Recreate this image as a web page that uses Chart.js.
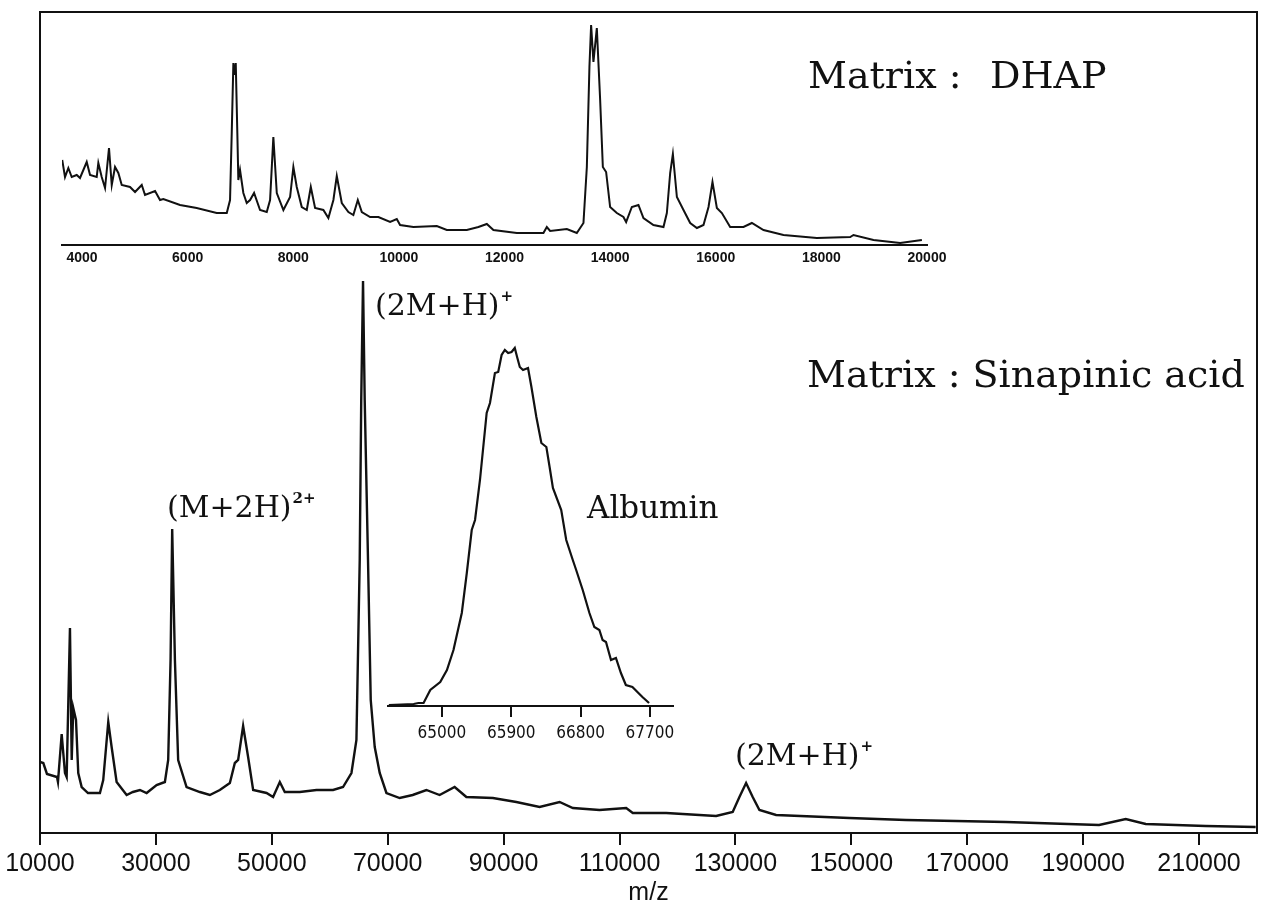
<!DOCTYPE html>
<html>
<head>
<meta charset="utf-8">
<script src="https://cdn.jsdelivr.net/npm/chart.js@4/dist/chart.umd.min.js"></script>
<style>
  body { margin: 0; background: #fff; }
  #wrap { position: relative; width: 1261px; height: 911px; }
  #wrap canvas { position: absolute; }
</style>
</head>
<body>
<div id="wrap">
  <canvas id="mainChart" width="1261" height="911" style="left:0;top:0"></canvas>
  <canvas id="dhapChart" width="1000" height="280" style="left:0;top:0"></canvas>
  <canvas id="albuminChart" width="320" height="430" style="left:370px;top:330px"></canvas>
</div>
<script>
// Main spectrum, matrix: sinapinic acid (m/z, relative intensity)
const mainMz = [10000, 10570, 11200, 12930, 13100, 13740, 14310, 14600, 15170, 15470, 15740, 16210, 16600, 17190, 18280,
  20340, 20910, 21780, 22360, 23220, 24950, 26030, 27240, 28400, 30120, 31550, 32120, 32530, 32810, 33280, 33840, 35290,
  37590, 39310, 41030, 42760, 43620, 44190, 45050, 45910, 46780, 49090, 50220, 51380, 52240, 54830, 57710, 60570, 62290,
  63740, 64600, 65170, 65430, 65740, 66030, 66600, 67070, 67760, 68620, 69780, 72070, 74310, 76670, 78960, 81550, 83570,
  88150, 92190, 96210, 99660, 101950, 106550, 111150, 112290, 118050, 126670, 129530, 130690, 131840, 132980, 134140,
  137010, 149660, 159430, 176670, 192750, 197350, 200800, 211150, 219770]
const mainIntensity = [71, 70, 59, 56, 51, 99, 60, 56, 205, 73, 125, 113, 60, 46, 40,
  40, 53, 111, 86, 51, 38, 41, 43, 40, 48, 51, 73, 173, 304, 173, 73, 46,
  41, 38, 43, 50, 70, 73, 107, 76, 43, 40, 36, 51, 41, 41, 43, 43, 46,
  60, 93, 273, 433, 552, 433, 273, 133, 86, 60, 40, 35, 38, 43, 38, 46, 36,
  35, 31, 26, 31, 25, 23, 25, 20, 20, 17, 21, 36, 50, 36, 23,
  18, 15, 13, 11, 8, 14, 9, 7, 6]
const mainTicks = [10000, 30000, 50000, 70000, 90000, 110000, 130000, 150000, 170000, 190000, 210000]

// Inset: matrix DHAP
const dhapMz = [3625, 3678, 3741, 3805, 3900, 3962, 4089, 4152, 4278, 4309, 4373, 4436, 4511, 4563, 4625, 4688, 4752,
  4909, 5004, 5131, 5193, 5383, 5477, 5540, 5856, 6172, 6551, 6741, 6803, 6835, 6866, 6888, 6911, 6941, 6960, 6992,
  7055, 7119, 7182, 7258, 7371, 7498, 7561, 7623, 7688, 7813, 7940, 8002, 8066, 8161, 8256, 8332, 8413, 8570, 8665,
  8760, 8824, 8919, 9044, 9138, 9222, 9298, 9455, 9612, 9834, 9960, 10023, 10275, 10718, 10907, 11286, 11506, 11665,
  11790, 12233, 12737, 12801, 12864, 13180, 13369, 13495, 13559, 13608, 13640, 13684, 13748, 13811, 13862, 13924,
  14000, 14127, 14252, 14303, 14411, 14536, 14631, 14820, 15010, 15074, 15137, 15188, 15264, 15389, 15516, 15643,
  15768, 15863, 15938, 16021, 16116, 16273, 16525, 16684, 16904, 17282, 17915, 18546, 18608, 18987, 19492, 19903]
const dhapIntensity = [85, 68, 77, 68, 70, 67, 83, 70, 68, 82, 68, 57, 97, 60, 78, 72, 60,
  58, 53, 60, 50, 54, 45, 46, 40, 37, 32, 32, 45, 112, 182, 170, 182, 112, 65, 75,
  52, 42, 45, 52, 35, 33, 45, 108, 52, 35, 48, 78, 58, 38, 35, 58, 37, 35, 27,
  45, 69, 42, 33, 30, 45, 33, 28, 28, 23, 26, 20, 18, 19, 15, 15, 18, 21,
  15, 12, 12, 18, 14, 16, 12, 22, 78, 178, 220, 183, 217, 145, 78, 73,
  38, 32, 28, 23, 38, 40, 27, 20, 18, 32, 72, 91, 48, 35, 22, 17,
  20, 38, 63, 37, 32, 18, 18, 22, 15, 10, 7, 8, 10, 5, 2, 5]
const dhapTicks = [4000, 6000, 8000, 10000, 12000, 14000, 16000, 18000, 20000]

// Inset: albumin peak detail
const albuminMz = [64311, 64633, 64694, 64762, 64849, 64978, 65065, 65150, 65258, 65323, 65387, 65430, 65494, 65581,
  65624, 65688, 65731, 65775, 65817, 65860, 65904, 65946, 65976, 66011, 66053, 66118, 66162, 66226, 66291, 66356,
  66398, 66441, 66549, 66614, 66699, 66743, 66828, 66915, 66979, 67044, 67086, 67130, 67195, 67259, 67324, 67388,
  67473, 67603, 67689]
const albuminIntensity = [1, 2, 3, 3, 16, 24, 36, 56, 93, 133, 176, 186, 226, 293,
  303, 333, 334, 351, 356, 353, 354, 358, 349, 339, 336, 338, 319, 289, 263, 259,
  239, 218, 196, 166, 146, 136, 116, 93, 79, 76, 66, 64, 46, 48, 33, 21,
  19, 9, 3]
const albuminTicks = [65000, 65900, 66800, 67700]

// Text drawn on the main picture: [text, superscript, left x, baseline y, size]
const labels = [
  ["Matrix :", "", 808, 88, 38],
  ["DHAP", "", 990, 88, 38],
  ["Matrix : Sinapinic acid", "", 807, 387, 38],
  ["(2M+H)", "+", 375, 315, 30],
  ["(M+2H)", "2+", 167, 517, 30],
  ["Albumin", "", 587, 518, 31],
  ["(2M+H)", "+", 735, 765, 30],
]

const ink = "#111"
const serif = "'DejaVu Serif', 'Liberation Serif', serif"

function toPoints(xs, ys) {
  return xs.map((x, i) => ({ x: x, y: ys[i] }))
}

// draws the box round the main plot and the annotations
const frameAndLabels = {
  id: "frameAndLabels",
  afterDraw(chart) {
    const { ctx, chartArea } = chart
    ctx.save()
    ctx.strokeStyle = ink
    ctx.lineWidth = 2
    ctx.strokeRect(chartArea.left, chartArea.top, chartArea.right - chartArea.left, chartArea.bottom - chartArea.top)
    ctx.fillStyle = ink
    ctx.textBaseline = "alphabetic"
    ctx.textAlign = "left"
    labels.forEach(([text, sup, x, y, size]) => {
      ctx.font = size + "px " + serif
      ctx.fillText(text, x, y)
      if (sup) {
        const w = ctx.measureText(text).width
        ctx.font = "bold " + Math.round(size * 0.5) + "px " + serif
        ctx.fillText(sup, x + w + 1, y - size * 0.48)
      }
    })
    ctx.restore()
  },
}

function lineChart(id, data, xMin, xMax, yMax, ticks, pad, axisHeight, xOpts) {
  return new Chart(document.getElementById(id), {
    type: "line",
    data: {
      datasets: [{
        data: data,
        borderColor: ink,
        borderWidth: xOpts.lineWidth,
        pointRadius: 0,
        tension: 0,
        fill: false,
      }],
    },
    options: {
      responsive: false,
      animation: false,
      devicePixelRatio: 1,
      layout: { padding: pad },
      plugins: { legend: { display: false }, tooltip: { enabled: false } },
      scales: {
        x: {
          type: "linear",
          min: xMin,
          max: xMax,
          afterBuildTicks: (axis) => { axis.ticks = ticks.map((v) => ({ value: v })) },
          afterFit: (axis) => { axis.height = axisHeight },
          grid: { drawOnChartArea: false, drawTicks: xOpts.tickLength > 0, tickLength: xOpts.tickLength, color: ink, lineWidth: 2 },
          border: { display: true, color: ink, width: 2 },
          ticks: {
            autoSkip: false,
            maxRotation: 0,
            minRotation: 0,
            padding: xOpts.tickPadding,
            color: ink,
            font: xOpts.font,
            callback: (v) => String(v),
          },
          title: xOpts.title,
        },
        y: { display: false, min: 0, max: yMax },
      },
    },
    plugins: xOpts.plugins || [],
  })
}

lineChart("mainChart", toPoints(mainMz, mainIntensity), 10000, 220000, 821, mainTicks,
  { left: 40, right: 4, top: 12, bottom: 0 }, 78, {
    lineWidth: 2.4,
    tickLength: 12,
    tickPadding: 4,
    font: { family: "'Liberation Sans', Arial, sans-serif", size: 25 },
    title: {
      display: true,
      text: "m/z",
      color: ink,
      font: { family: "'Liberation Sans', Arial, sans-serif", size: 25 },
      padding: { top: 0, bottom: 3 },
    },
    plugins: [frameAndLabels],
  })

lineChart("dhapChart", toPoints(dhapMz, dhapIntensity), 3621, 20000, 233, dhapTicks,
  { left: 62, right: 73, top: 12, bottom: 0 }, 35, {
    lineWidth: 2,
    tickLength: 0,
    tickPadding: 5,
    font: { family: "'Liberation Sans', Arial, sans-serif", size: 14, weight: "bold" },
    title: { display: false },
  })

lineChart("albuminChart", toPoints(albuminMz, albuminIntensity), 64300, 68000, 366, albuminTicks,
  { left: 18, right: 17, top: 10, bottom: 0 }, 54, {
    lineWidth: 2.2,
    tickLength: 11,
    tickPadding: 6,
    font: { family: "'Liberation Sans Narrow', 'DejaVu Sans Condensed', sans-serif", size: 17 },
    title: { display: false },
  })
</script>
</body>
</html>
